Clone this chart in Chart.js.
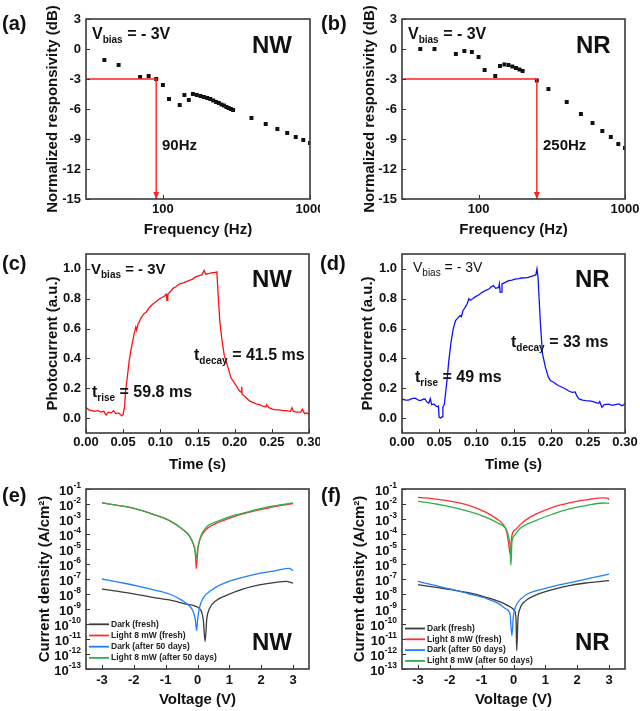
<!DOCTYPE html>
<html>
<head>
<meta charset="utf-8">
<script src="https://cdn.jsdelivr.net/npm/chart.js@4.4.1/dist/chart.umd.min.js"></script>
<style>
  html, body { margin: 0; padding: 0; background: #fff; }
  #page { position: relative; width: 640px; height: 711px; overflow: hidden; background: #fff; }
  .box { position: absolute; overflow: hidden; }
  .box canvas { position: absolute; left: 0; top: 0; }
</style>
</head>
<body>
<div id="page">
  <div class="box" style="left:0;top:0;width:320px;height:245px"><canvas id="pa" width="350" height="245"></canvas></div>
  <div class="box" style="left:320px;top:0;width:320px;height:245px"><canvas id="pb" width="350" height="245"></canvas></div>
  <div class="box" style="left:0;top:240px;width:320px;height:240px"><canvas id="pc" width="350" height="240"></canvas></div>
  <div class="box" style="left:320px;top:240px;width:320px;height:240px"><canvas id="pd" width="350" height="240"></canvas></div>
  <div class="box" style="left:0;top:470px;width:320px;height:241px"><canvas id="pe" width="350" height="241"></canvas></div>
  <div class="box" style="left:320px;top:470px;width:320px;height:241px"><canvas id="pf" width="350" height="241"></canvas></div>
</div>
<script>
// ---- (a) NW frequency response ----
const aFreq = [40, 50, 70, 80, 90, 100, 110, 130, 140, 150, 160, 170, 180, 190, 200, 210, 220, 230, 240, 250, 260, 270, 280, 290, 300, 400, 500, 600, 700, 800, 900, 1000];
const aResp = [-1.1, -1.6, -2.8, -2.7, -3.0, -3.6, -5.0, -5.6, -4.6, -5.1, -4.5, -4.6, -4.7, -4.8, -4.9, -5.0, -5.15, -5.3, -5.4, -5.55, -5.65, -5.8, -5.9, -6.0, -6.1, -6.9, -7.5, -8.0, -8.4, -8.8, -9.1, -9.4];
const aCutoff = 90;
// ---- (b) NR frequency response ----
const bFreq = [40, 50, 70, 80, 90, 100, 110, 130, 140, 150, 160, 170, 180, 190, 200, 250, 300, 400, 500, 600, 700, 800, 900, 1000];
const bResp = [0.0, 0.0, -0.5, -0.2, -0.3, -0.8, -2.1, -2.7, -1.7, -1.55, -1.6, -1.75, -1.9, -2.05, -2.2, -3.15, -4.0, -5.3, -6.5, -7.4, -8.2, -8.8, -9.5, -9.9];
const bCutoff = 250;
const cutLevel = -3;
const freqTicks = [100, 1000];
const respTicks = [-15, -12, -9, -6, -3, 0, 3];

// ---- (c) NW photocurrent ----
const cTime = [0, 0.004, 0.008, 0.012, 0.016, 0.02, 0.024, 0.027, 0.03, 0.034, 0.037, 0.04, 0.044, 0.048, 0.05, 0.052, 0.053, 0.055, 0.058, 0.061, 0.063, 0.065, 0.067, 0.068, 0.07, 0.074, 0.078, 0.081, 0.085, 0.09, 0.094, 0.099, 0.103, 0.106, 0.108, 0.109, 0.11, 0.114, 0.117, 0.121, 0.126, 0.13, 0.135, 0.14, 0.143, 0.147, 0.152, 0.156, 0.159, 0.161, 0.166, 0.17, 0.173, 0.176, 0.177, 0.178, 0.18, 0.183, 0.186, 0.191, 0.195, 0.202, 0.206, 0.209, 0.2095, 0.21, 0.215, 0.22, 0.224, 0.229, 0.233, 0.238, 0.242, 0.243, 0.246, 0.251, 0.256, 0.26, 0.265, 0.27, 0.275, 0.277, 0.279, 0.284, 0.289, 0.291, 0.294, 0.297, 0.3];
const cCurr = [0.07, 0.055, 0.05, 0.045, 0.05, 0.04, 0.045, 0.02, 0.04, 0.035, 0.05, 0.03, 0.035, 0.015, 0.025, 0.08, 0.17, 0.25, 0.38, 0.47, 0.52, 0.57, 0.61, 0.59, 0.63, 0.67, 0.70, 0.71, 0.74, 0.765, 0.78, 0.80, 0.81, 0.82, 0.83, 0.79, 0.83, 0.85, 0.87, 0.88, 0.90, 0.905, 0.915, 0.925, 0.93, 0.945, 0.955, 0.96, 0.99, 0.965, 0.97, 0.975, 0.975, 0.98, 0.90, 0.81, 0.65, 0.52, 0.42, 0.34, 0.27, 0.217, 0.185, 0.172, 0.21, 0.16, 0.14, 0.115, 0.105, 0.095, 0.09, 0.08, 0.075, 0.09, 0.07, 0.06, 0.055, 0.055, 0.05, 0.05, 0.045, 0.07, 0.045, 0.04, 0.04, 0.06, 0.03, 0.035, 0.025];
// ---- (d) NR photocurrent ----
const dTime = [0, 0.005, 0.009, 0.013, 0.018, 0.022, 0.025, 0.028, 0.031, 0.033, 0.036, 0.038, 0.04, 0.043, 0.045, 0.048, 0.049, 0.05, 0.052, 0.054, 0.055, 0.057, 0.0605, 0.063, 0.066, 0.069, 0.072, 0.075, 0.078, 0.08, 0.082, 0.085, 0.088, 0.09, 0.092, 0.095, 0.099, 0.103, 0.108, 0.112, 0.117, 0.12, 0.123, 0.126, 0.13, 0.131, 0.132, 0.134, 0.1345, 0.139, 0.1435, 0.148, 0.152, 0.157, 0.161, 0.166, 0.17, 0.174, 0.177, 0.18, 0.1816, 0.183, 0.186, 0.189, 0.193, 0.197, 0.2, 0.204, 0.208, 0.211, 0.216, 0.22, 0.225, 0.229, 0.233, 0.235, 0.238, 0.243, 0.247, 0.252, 0.256, 0.26, 0.2645, 0.266, 0.269, 0.272, 0.278, 0.283, 0.287, 0.292, 0.296, 0.298, 0.3];
const dCurr = [0.128, 0.12, 0.121, 0.13, 0.134, 0.12, 0.117, 0.125, 0.128, 0.11, 0.099, 0.13, 0.09, 0.095, 0.083, 0.076, 0.08, 0.005, 0.0, 0.009, 0.072, 0.094, 0.25, 0.385, 0.51, 0.60, 0.653, 0.67, 0.687, 0.68, 0.72, 0.742, 0.77, 0.80, 0.79, 0.80, 0.814, 0.825, 0.843, 0.855, 0.865, 0.88, 0.888, 0.87, 0.876, 0.90, 0.843, 0.845, 0.899, 0.91, 0.921, 0.925, 0.932, 0.935, 0.939, 0.94, 0.944, 0.95, 0.955, 0.96, 1.0, 0.944, 0.653, 0.43, 0.34, 0.273, 0.25, 0.24, 0.225, 0.217, 0.205, 0.195, 0.18, 0.172, 0.175, 0.15, 0.128, 0.12, 0.117, 0.115, 0.112, 0.105, 0.099, 0.11, 0.072, 0.09, 0.094, 0.085, 0.09, 0.095, 0.083, 0.088, 0.099];
const timeTicks = [0, 0.05, 0.1, 0.15, 0.2, 0.25, 0.3];
const currTicks = [0, 0.2, 0.4, 0.6, 0.8, 1.0];

// ---- (e) NW J-V ----
const eDarkFreshV = [-3, -2.45, -1.93, -1.41, -0.88, -0.36, -0.05, 0.11, 0.18, 0.24, 0.29, 0.37, 0.58, 0.89, 1.42, 1.94, 2.46, 2.78, 3.0];
const eDarkFreshJ = [2.1e-8, 1.45e-8, 9.5e-9, 6.0e-9, 4.0e-9, 2.1e-9, 1.5e-9, 7.8e-10, 2.1e-10, 6.6e-12, 2.1e-10, 1.0e-9, 3.6e-9, 7.8e-9, 2.1e-8, 4.0e-8, 6.0e-8, 6.9e-8, 5.4e-8];
const eLightFreshV = [-3, -2.45, -1.93, -1.41, -0.88, -0.47, -0.26, -0.13, -0.07, -0.04, 0.02, 0.11, 0.27, 0.69, 1.21, 1.73, 2.25, 3.0];
const eLightFreshJ = [1.17e-2, 7.8e-3, 4.7e-3, 2.1e-3, 7.8e-4, 2.1e-4, 7.8e-5, 2.1e-5, 6.3e-6, 5.0e-7, 1.26e-5, 6.3e-5, 2.0e-4, 6.3e-4, 1.6e-3, 3.2e-3, 5.6e-3, 1.07e-2];
const eDarkAgedV = [-3, -2.45, -1.93, -1.41, -0.88, -0.47, -0.26, -0.15, -0.07, -0.03, 0.005, 0.06, 0.16, 0.48, 0.9, 1.42, 1.94, 2.46, 2.88, 3.0];
const eDarkAgedJ = [1.0e-7, 6.0e-8, 3.6e-8, 1.95e-8, 1.0e-8, 3.6e-9, 1.66e-9, 7.8e-10, 2.1e-10, 3.6e-11, 2.1e-10, 1.2e-9, 4.7e-9, 2.1e-8, 6.0e-8, 1.3e-7, 2.4e-7, 3.6e-7, 5.1e-7, 3.6e-7];
const eLightAgedV = [-3, -2.45, -1.93, -1.41, -0.88, -0.47, -0.26, -0.13, -0.07, -0.04, 0.02, 0.11, 0.27, 0.69, 1.21, 1.73, 2.25, 3.0];
const eLightAgedJ = [1.17e-2, 7.8e-3, 4.7e-3, 2.1e-3, 7.8e-4, 2.1e-4, 7.8e-5, 2.1e-5, 6.3e-6, 2.5e-6, 1.6e-5, 7.9e-5, 2.75e-4, 7.8e-4, 1.86e-3, 3.6e-3, 6.6e-3, 1.17e-2];
// ---- (f) NR J-V ----
const fDarkFreshV = [-3, -2.43, -1.9, -1.38, -0.86, -0.44, -0.13, 0.03, 0.08, 0.1, 0.14, 0.2, 0.39, 0.7, 1.23, 1.75, 2.27, 3.0];
const fDarkFreshJ = [4.2e-8, 2.75e-8, 1.86e-8, 1.17e-8, 6.0e-9, 3.1e-9, 1.5e-9, 7.8e-10, 2.1e-10, 1.66e-12, 2.1e-10, 1.0e-9, 3.6e-9, 8.5e-9, 1.95e-8, 3.6e-8, 5.4e-8, 7.8e-8];
const fLightFreshV = [-3, -2.43, -1.9, -1.38, -0.86, -0.55, -0.34, -0.21, -0.15, -0.11, -0.05, 0.08, 0.29, 0.7, 1.23, 1.75, 2.27, 2.79, 2.95, 3.0];
const fLightFreshJ = [2.75e-2, 2.14e-2, 1.45e-2, 7.8e-3, 2.75e-3, 1.1e-3, 4.7e-4, 1.3e-4, 2.1e-5, 5.0e-6, 7.9e-5, 2.1e-4, 6.0e-4, 2.1e-3, 6.0e-3, 1.17e-2, 1.86e-2, 2.6e-2, 2.5e-2, 1.95e-2];
const fDarkAgedV = [-3, -2.43, -1.9, -1.38, -0.86, -0.44, -0.23, -0.11, -0.05, -0.005, 0.08, 0.23, 0.5, 0.91, 1.43, 1.96, 2.48, 3.0];
const fDarkAgedJ = [6.9e-8, 3.6e-8, 1.95e-8, 1.0e-8, 5.1e-9, 2.1e-9, 1.0e-9, 4.7e-10, 1.66e-11, 3.2e-10, 1.66e-9, 4.7e-9, 1.17e-8, 2.1e-8, 4.0e-8, 6.9e-8, 1.23e-7, 2.1e-7];
const fLightAgedV = [-3, -2.43, -1.9, -1.38, -0.86, -0.44, -0.23, -0.15, -0.11, -0.08, -0.05, 0.03, 0.18, 0.7, 1.23, 1.75, 2.27, 2.79, 3.0];
const fLightAgedJ = [1.5e-2, 1.0e-2, 6.0e-3, 3.1e-3, 1.3e-3, 4.7e-4, 2.1e-4, 6.0e-5, 1.66e-5, 8.0e-7, 2.75e-5, 7.9e-5, 2.1e-4, 7.8e-4, 2.1e-3, 4.7e-3, 7.8e-3, 1.17e-2, 1.1e-2];
const voltTicks = [-3, -2, -1, 0, 1, 2, 3];
const densTicks = [1e-13, 1e-12, 1e-11, 1e-10, 1e-9, 1e-8, 1e-7, 1e-6, 1e-5, 1e-4, 1e-3, 1e-2, 1e-1];
const ivLabels = ['Dark (fresh)', 'Light 8 mW (fresh)', 'Dark (after 50 days)', 'Light 8 mW (after 50 days)'];

const FONT = '"Liberation Sans", Arial, Helvetica, sans-serif';
const INK = '#111';
Chart.defaults.font.family = FONT;
Chart.defaults.color = INK;

function pts(xs, ys) { return xs.map((x, i) => ({ x: x, y: ys[i] })); }

function drawRich(ctx, x, y, parts) {
  ctx.textAlign = 'left';
  ctx.textBaseline = 'alphabetic';
  ctx.fillStyle = INK;
  parts.forEach(p => {
    ctx.font = (p[3] || 'bold') + ' ' + p[1] + 'px ' + FONT;
    ctx.fillText(p[0], x, y + (p[2] || 0));
    x += ctx.measureText(p[0]).width;
  });
}

// frame, inward ticks, notes, log labels, legend, arrow heads
const decor = {
  id: 'decor',
  afterDraw(chart, args, o) {
    const ctx = chart.ctx, a = chart.chartArea;
    const xs = chart.scales.x, ys = chart.scales.y;
    ctx.save();
    chart.data.datasets.forEach((d, i) => {
      if (!d.arrow) return;
      const m = chart.getDatasetMeta(i).data;
      const p = m[m.length - 1];
      ctx.fillStyle = d.borderColor;
      ctx.beginPath();
      ctx.moveTo(p.x, p.y);
      ctx.lineTo(p.x - 3, p.y - 7);
      ctx.lineTo(p.x + 3, p.y - 7);
      ctx.closePath();
      ctx.fill();
    });
    ctx.strokeStyle = '#333';
    ctx.lineWidth = 1;
    ctx.beginPath();
    xs.ticks.forEach(t => {
      const p = Math.round(xs.getPixelForValue(t.value)) + 0.5;
      ctx.moveTo(p, a.bottom); ctx.lineTo(p, a.bottom - 4);
    });
    ys.ticks.forEach(t => {
      const p = Math.round(ys.getPixelForValue(t.value)) + 0.5;
      ctx.moveTo(a.left, p); ctx.lineTo(a.left + 4, p);
    });
    ctx.stroke();
    ctx.lineWidth = 1.6;
    ctx.strokeStyle = '#3a3a3a';
    ctx.strokeRect(a.left, a.top, a.right - a.left, a.bottom - a.top);
    if (o.logLabels) {
      ys.ticks.forEach(t => {
        const p = ys.getPixelForValue(t.value);
        const e = String(Math.round(Math.log10(t.value)));
        ctx.fillStyle = INK;
        ctx.textAlign = 'left';
        ctx.textBaseline = 'middle';
        ctx.font = 'bold 8.5px ' + FONT;
        const ew = ctx.measureText(e).width;
        ctx.font = 'bold 13px ' + FONT;
        const bw = ctx.measureText('10').width;
        const xr = a.left - 5;
        ctx.fillText('10', xr - ew - bw, p + 2);
        ctx.font = 'bold 8.5px ' + FONT;
        ctx.fillText(e, xr - ew, p - 3);
      });
    }
    (o.notes || []).forEach(n => drawRich(ctx, n[0], n[1], n[2]));
    if (o.legend) {
      const L = o.legend;
      chart.data.datasets.forEach((d, i) => {
        const y = L.y + i * L.dy;
        ctx.strokeStyle = d.borderColor;
        ctx.lineWidth = 1.8;
        ctx.beginPath(); ctx.moveTo(L.x, y); ctx.lineTo(L.x + 20, y); ctx.stroke();
        ctx.fillStyle = '#222';
        ctx.font = 'bold 8.5px ' + FONT;
        ctx.textAlign = 'left';
        ctx.textBaseline = 'middle';
        ctx.fillText(d.label, L.x + 22, y);
      });
    }
    ctx.restore();
  }
};

function yAxis(w, text, tx, extra) {
  return Object.assign({
    position: 'left',
    grid: { display: false, drawTicks: false },
    border: { display: false },
    ticks: { font: { size: 13, weight: 'bold' }, color: INK, padding: 5, autoSkip: false },
    title: { display: true, text: text, font: { size: 15, weight: 'bold' }, color: INK, padding: { top: tx - 9, bottom: 0 } },
    afterFit: s => { s.width = w; }
  }, extra);
}

function xAxis(h, text, pb, tp, extra) {
  return Object.assign({
    position: 'bottom',
    grid: { display: false, drawTicks: false },
    border: { display: false },
    ticks: { font: { size: 13, weight: 'bold' }, color: INK, padding: tp, autoSkip: false, maxRotation: 0 },
    title: { display: true, text: text, font: { size: 15, weight: 'bold' }, color: INK, padding: { top: 0, bottom: pb } },
    afterFit: s => { s.height = h; }
  }, extra);
}

function setTicks(list) { return s => { s.ticks = list.map(v => ({ value: v })); }; }

function panel(id, pad, datasets, x, y, deco) {
  return new Chart(document.getElementById(id), {
    type: 'scatter',
    data: { datasets: datasets },
    options: {
      responsive: false,
      animation: false,
      events: [],
      layout: { padding: { top: pad[0], right: pad[1], bottom: 0, left: 0 } },
      plugins: { legend: { display: false }, tooltip: { enabled: false }, decor: deco },
      scales: { x: x, y: y }
    },
    plugins: [decor]
  });
}

function dots(xs, ys) {
  return { data: pts(xs, ys), pointStyle: 'rect', pointRadius: 2.8, backgroundColor: '#111', borderWidth: 0 };
}
function cutLine(f) {
  return { data: [{ x: 30, y: cutLevel }, { x: f, y: cutLevel }, { x: f, y: -15 }], showLine: true, borderColor: '#ff2020', borderWidth: 1.4, pointRadius: 0, arrow: true };
}
function curve(xs, ys, color, extra) {
  return Object.assign({ data: pts(xs, ys), showLine: true, borderColor: color, borderWidth: 1.3, pointRadius: 0, tension: 0 }, extra);
}

function freqX() {
  return xAxis(46, 'Frequency (Hz)', 6, 3, { type: 'logarithmic', min: 30, max: 1000, afterBuildTicks: setTicks(freqTicks), ticks: { font: { size: 13, weight: 'bold' }, color: INK, padding: 3, autoSkip: false, maxRotation: 0, callback: v => String(v) } });
}
function respY(w, tx) {
  return yAxis(w, 'Normalized responsivity (dB)', tx, { min: -15, max: 3, afterBuildTicks: setTicks(respTicks) });
}
function timeX() {
  return xAxis(47, 'Time (s)', 6, 2, { min: 0, max: 0.3, afterBuildTicks: setTicks(timeTicks), ticks: { font: { size: 13, weight: 'bold' }, color: INK, padding: 2, autoSkip: false, maxRotation: 0, callback: v => v.toFixed(2) } });
}
function currY(w, tx) {
  return yAxis(w, 'Photocurrent (a.u.)', tx, { min: -0.1, max: 1.1, afterBuildTicks: setTicks(currTicks), ticks: { font: { size: 13, weight: 'bold' }, color: INK, padding: 5, autoSkip: false, callback: v => v.toFixed(1) } });
}
function voltX() {
  return xAxis(42, 'Voltage (V)', 2, 4, { min: -3.5, max: 3.5, afterBuildTicks: setTicks(voltTicks) });
}
function densY(w, tx) {
  return yAxis(w, 'Current density (A/cm²)', tx, { type: 'logarithmic', min: 1e-13, max: 1e-1, afterBuildTicks: setTicks(densTicks), ticks: { display: false } });
}

const vb = (s, w, sub) => [['V', s, 0, w], ['bias', sub, 4, w], [' = - 3V', s, 0, w]];

panel('pa', [19, 40], [cutLine(aCutoff), dots(aFreq, aResp)], freqX(), respY(86, 53), {
  notes: [[2, 30, [['(a)', 20]]], [92, 39, vb(16, 'bold', 10)], [252, 53, [['NW', 24]]], [162, 150, [['90Hz', 15]]]]
});
panel('pb', [19, 45], [cutLine(bCutoff), dots(bFreq, bResp)], freqX(), respY(82, 50), {
  notes: [[1, 30, [['(b)', 20]]], [88, 39, vb(16, 'bold', 10)], [256, 53, [['NR', 24]]], [223, 150, [['250Hz', 15]]]]
});
panel('pc', [14, 41], [curve(cTime, cCurr, '#ff1010')], timeX(), currY(86, 53), {
  notes: [[2, 30, [['(c)', 20]]], [91, 34, vb(15, 'bold', 10)], [252, 47, [['NW', 24]]],
          [194, 120, [['t', 16], ['decay', 10, 4], [' = 41.5 ms', 16]]], [92, 157, [['t', 16], ['rise', 10, 4], [' = 59.8 ms', 16]]]]
});
panel('pd', [14, 45], [curve(dTime, dCurr, '#1010ff')], timeX(), currY(82, 48), {
  notes: [[0, 30, [['(d)', 20]]], [93, 32, vb(14, 'normal', 10)], [255, 47, [['NR', 24]]],
          [191, 107, [['t', 16], ['decay', 10, 4], [' = 33 ms', 16]]], [95, 142, [['t', 16], ['rise', 10, 4], [' = 49 ms', 16]]]]
});

function ivSets(df, lf, da, la) {
  const m = { cubicInterpolationMode: 'monotone', borderWidth: 1.3 };
  return [
    curve(df[0], df[1], '#3c3c3c', Object.assign({ label: ivLabels[0], order: 3 }, m)),
    curve(lf[0], lf[1], '#ff3030', Object.assign({ label: ivLabels[1], order: 1 }, m)),
    curve(da[0], da[1], '#1f7fff', Object.assign({ label: ivLabels[2], order: 2 }, m)),
    curve(la[0], la[1], '#2bb04c', Object.assign({ label: ivLabels[3], order: 0 }, m))
  ];
}

panel('pe', [19, 41], ivSets([eDarkFreshV, eDarkFreshJ], [eLightFreshV, eLightFreshJ], [eDarkAgedV, eDarkAgedJ], [eLightAgedV, eLightAgedJ]),
  voltX(), densY(86, 45), {
    logLabels: true, legend: { x: 89, y: 154.3, dy: 11.2 },
    notes: [[2, 32, [['(e)', 20]]], [252, 180, [['NW', 24]]]]
  });
panel('pf', [19, 45], ivSets([fDarkFreshV, fDarkFreshJ], [fLightFreshV, fLightFreshJ], [fDarkAgedV, fDarkAgedJ], [fLightAgedV, fLightAgedJ]),
  voltX(), densY(82, 40), {
    logLabels: true, legend: { x: 85, y: 158.5, dy: 10.8 },
    notes: [[1, 32, [['(f)', 20]]], [255, 180, [['NR', 24]]]]
  });
</script>
</body>
</html>
